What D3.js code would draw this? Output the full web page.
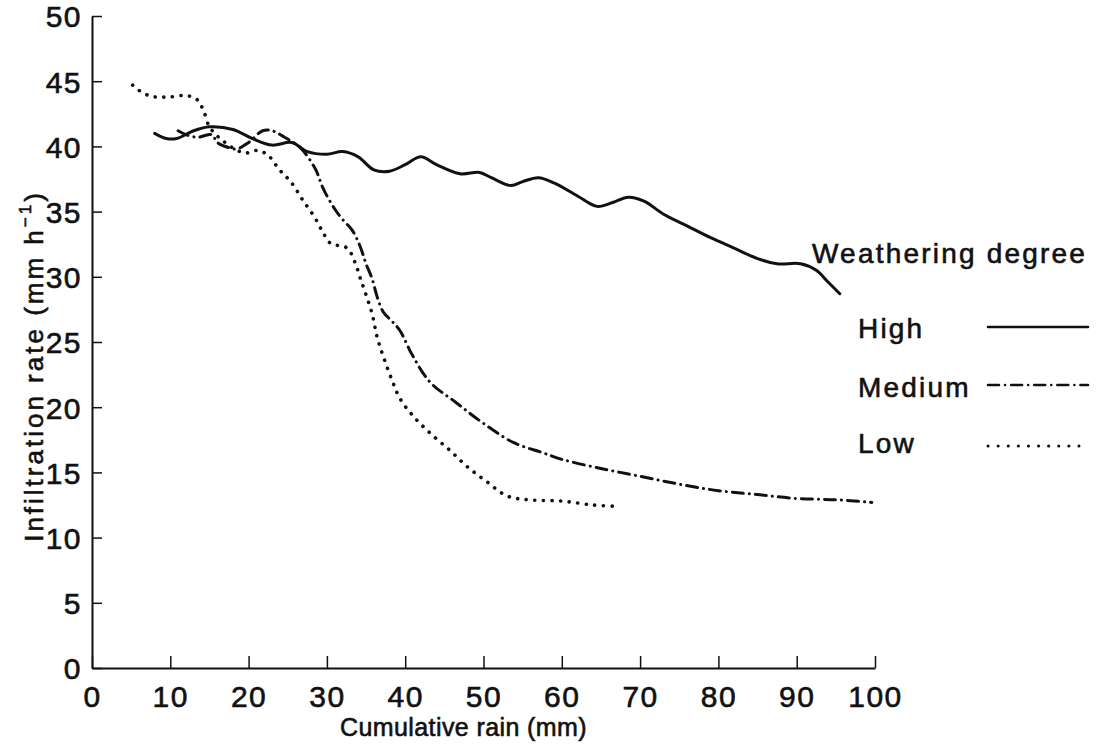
<!DOCTYPE html>
<html>
<head>
<meta charset="utf-8">
<script src="https://cdn.jsdelivr.net/npm/d3@7"></script>
<style>
  body { margin: 0; background: #fff; }
  text { font-family: "Liberation Sans", Arial, sans-serif; fill: #111; stroke: #111; stroke-width: 0.6px; }
  .axis path, .axis line { stroke: #111; stroke-width: 2; }
  .line { fill: none; stroke: #111; }
</style>
</head>
<body>
<svg id="chart" width="1104" height="746"></svg>
<script>
"use strict";

// tick values
var xTicks = [0, 10, 20, 30, 40, 50, 60, 70, 80, 90, 100];
var yTicks = [0, 5, 10, 15, 20, 25, 30, 35, 40, 45, 50];

// [cumulative rain (mm), infiltration rate (mm/h)]
var highSeries = [
    [8, 41.0], [9.5, 40.6], [10.8, 40.6], [13, 41.2], [15, 41.5], [18, 41.3],
    [20.5, 40.6], [23, 40.1], [25.5, 40.3], [27.5, 39.6], [30, 39.4], [32, 39.6],
    [34, 39.2], [36, 38.2], [38, 38.1], [40, 38.6], [42, 39.2], [44, 38.6],
    [47, 37.9], [49.5, 38.0], [51, 37.6], [53.5, 37.0], [55, 37.3], [57, 37.6],
    [59, 37.2], [62, 36.2], [64.5, 35.4], [66.5, 35.7], [68.5, 36.1], [70.5, 35.8],
    [73, 34.8], [76, 33.9], [79, 33.0], [82, 32.2], [85, 31.4], [87.5, 31.0],
    [90.5, 31.0], [92.5, 30.5], [94, 29.6], [95.5, 28.7]
];
var mediumSeries = [
    [11, 41.2], [12, 40.9], [13.5, 40.7], [15.3, 40.9], [16, 40.3], [17.5, 39.9],
    [18.5, 39.8], [20, 40.3], [21.8, 41.2], [23, 41.2], [24.6, 40.7], [26.6, 39.9],
    [28.5, 38.3], [29.5, 36.8], [31, 35.2], [32, 34.4], [33.2, 33.6], [34.2, 32.4],
    [35, 31.0], [35.8, 29.8], [36.4, 28.5], [37.2, 27.3], [38.3, 26.6], [39.3, 25.9],
    [41, 23.9], [43.2, 21.9], [46.4, 20.4], [49.9, 18.8], [53.8, 17.3], [57.6, 16.5],
    [60, 16.0], [65, 15.3], [70, 14.7], [75, 14.1], [80, 13.6], [85, 13.3],
    [90, 13.0], [95, 12.9], [99.6, 12.7]
];
var lowSeries = [
    [5.2, 44.7], [6.5, 44.1], [8, 43.8], [10, 43.8], [12, 43.9], [13.4, 43.6],
    [14.2, 42.8], [15, 41.5], [16, 40.8], [17, 40.3], [18.5, 39.7], [19.8, 39.5],
    [21.2, 39.7], [22.3, 39.4], [23, 39.0], [23.8, 38.3], [24.6, 37.8], [25.5, 37.2],
    [26.9, 35.9], [28.5, 34.5], [29.5, 33.4], [30.4, 32.6], [31.4, 32.4], [32.6, 32.2],
    [33.6, 31.1], [34.2, 30.0], [34.9, 28.8], [35.8, 27.1], [36.4, 25.4], [37.2, 23.9],
    [38.3, 22.1], [39.3, 20.7], [40.9, 19.4], [43.2, 18.0], [45.7, 16.7], [48, 15.4],
    [50.4, 14.3], [53, 13.2], [55.7, 12.9], [60, 12.8], [64, 12.5], [67, 12.4]
];

var legendTitle = "Weathering degree";
var legendNames = ["High", "Medium", "Low"];

var svg = d3.select("#chart");

var x = d3.scaleLinear().domain([0, 100]).range([92, 875]);
var y = d3.scaleLinear().domain([0, 50]).range([668, 16]);

// axes, ticks point inward
var xAxis = d3.axisBottom(x).tickValues(xTicks).tickSizeInner(-12).tickSizeOuter(0).tickPadding(18);
var yAxis = d3.axisLeft(y).tickValues(yTicks).tickSizeInner(-10).tickSizeOuter(0).tickPadding(10);

var gX = svg.append("g").attr("class", "axis axis-x")
    .attr("transform", "translate(0," + y(0) + ")")
    .call(xAxis);
var gY = svg.append("g").attr("class", "axis axis-y")
    .attr("transform", "translate(" + x(0) + ",0)")
    .call(yAxis);

gX.selectAll("line").style("stroke-width", 1.5);
gY.selectAll("line").style("stroke-width", 1.5);
[gX, gY].forEach(function (g) {
    g.selectAll("text")
        .style("font-size", "30px")
        .style("letter-spacing", "1.5px")
        .style("font-family", "'Liberation Sans', Arial, sans-serif")
        .attr("fill", "#111");
});
gY.selectAll("text").attr("dy", "0.36em");

// axis titles
svg.append("text")
    .attr("x", (x(0) + x(100)) / 2 - 20)
    .attr("y", 736)
    .attr("text-anchor", "middle")
    .style("font-size", "25px")
    .style("letter-spacing", "0.4px")
    .text("Cumulative rain (mm)");

var yTitle = svg.append("text")
    .attr("transform", "translate(43,366) rotate(-90)")
    .attr("text-anchor", "middle")
    .style("font-size", "26px")
    .style("letter-spacing", "3px");
yTitle.append("tspan").text("Infiltration rate (mm h");
yTitle.append("tspan").attr("dy", "-0.7em").style("font-size", "17px").text("\u22121");
yTitle.append("tspan").attr("dy", "0.45em").text(")");

// series lines
var line = d3.line()
    .x(function (d) { return x(d[0]); })
    .y(function (d) { return y(d[1]); })
    .curve(d3.curveCatmullRom.alpha(0.5));

var styles = [
    { data: highSeries, width: 3, dash: null },
    { data: mediumSeries, width: 3, dash: "11,6,0.1,6" },
    { data: lowSeries, width: 3.6, dash: "0.1,8.5" }
];

for (var i = 0; i < styles.length; i++) {
    var p = svg.append("path")
        .attr("class", "line line-" + i)
        .datum(styles[i].data)
        .attr("d", line)
        .attr("stroke-width", styles[i].width)
        .attr("stroke-linecap", "round");
    if (styles[i].dash) p.attr("stroke-dasharray", styles[i].dash);
}

// legend
var legendG = svg.append("g").attr("class", "legend-g");
legendG.append("text")
    .attr("x", 812).attr("y", 263)
    .style("font-size", "28px")
    .style("letter-spacing", "2.2px")
    .text(legendTitle);

var rowY = [338, 397, 453];
var sampleY = [327, 385, 446];
for (var i = 0; i < legendNames.length; i++) {
    legendG.append("text")
        .attr("x", 858).attr("y", rowY[i])
        .style("font-size", "28px")
        .style("letter-spacing", "2.2px")
        .text(legendNames[i]);
    var s = legendG.append("line")
        .attr("x1", 988).attr("x2", 1088)
        .attr("y1", sampleY[i]).attr("y2", sampleY[i])
        .attr("stroke", "#111")
        .attr("stroke-width", i === 2 ? 3 : 2.5)
        .attr("stroke-linecap", "round");
    if (styles[i].dash) s.attr("stroke-dasharray", i === 2 ? "0.1,10" : styles[i].dash);
}
</script>
</body>
</html>
